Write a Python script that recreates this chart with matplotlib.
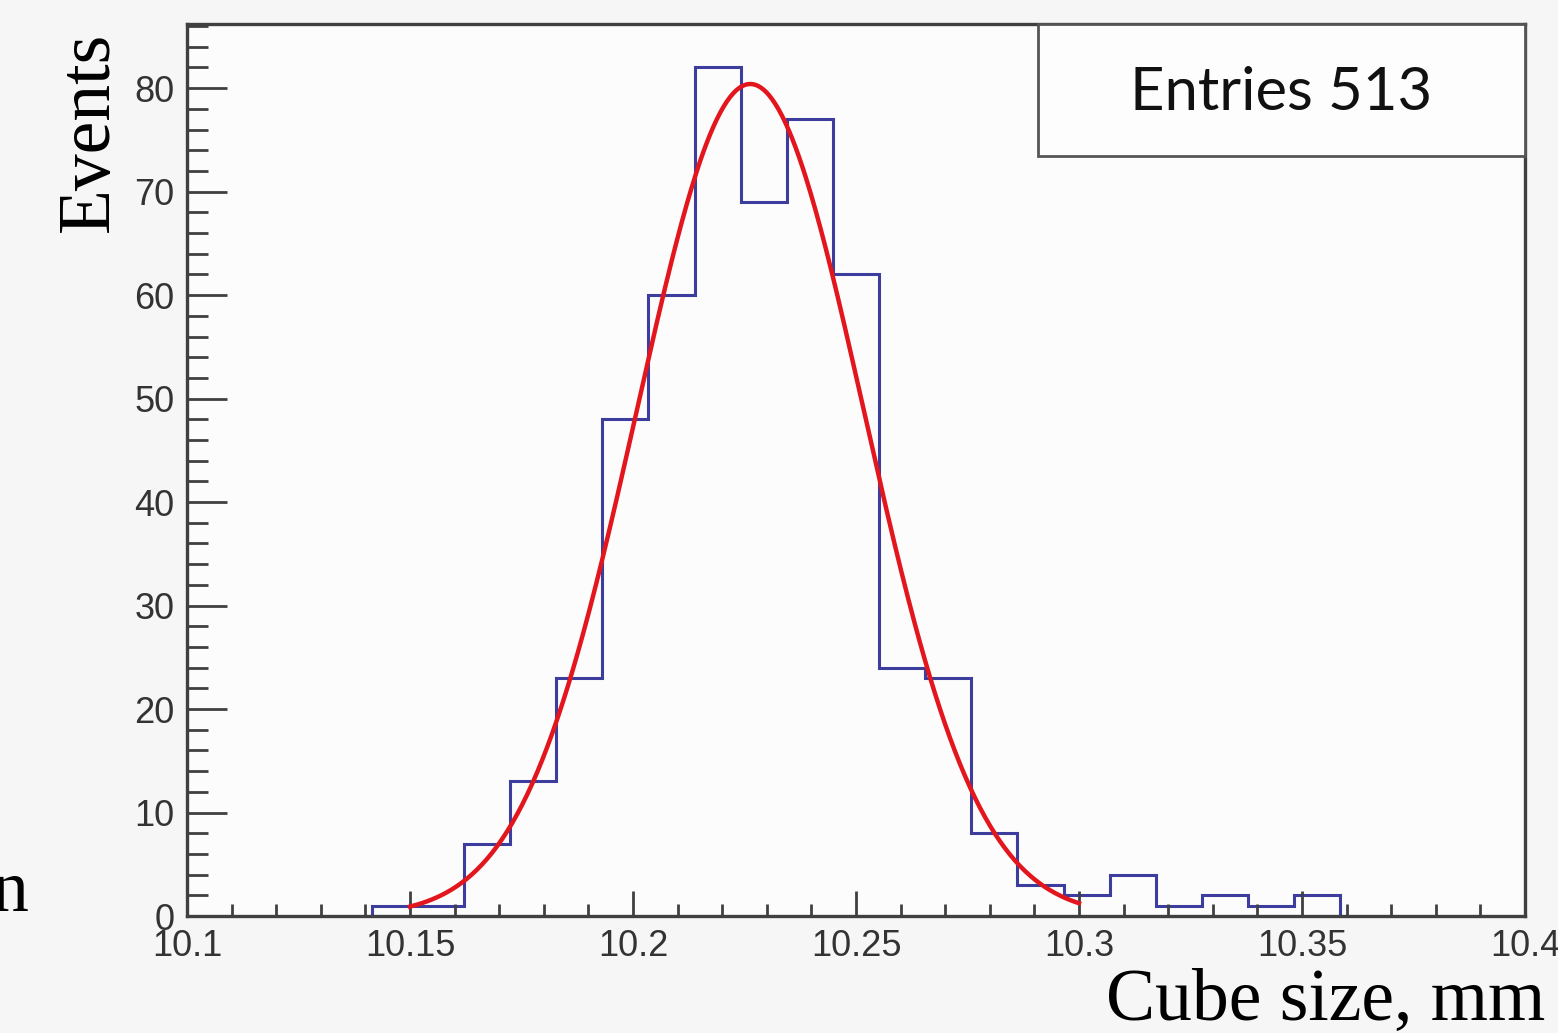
import numpy as np
import matplotlib.pyplot as plt
from matplotlib.patches import Rectangle
from matplotlib.ticker import MultipleLocator

# histogram: 29 bins between 10.1 and 10.4 mm
x_min, x_max, n_bins = 10.1, 10.4, 29
counts = [0, 0, 0, 0, 1, 1, 7, 13, 23, 48, 60, 82, 69, 77, 62,
          24, 23, 8, 3, 2, 4, 1, 2, 1, 2, 0, 0, 0, 0]
entries = 513

# gaussian fit
fit_amp = 80.4
fit_mean = 10.2263
fit_sigma = 0.0255
fit_range = (10.15, 10.30)

x_ticks = [10.1, 10.15, 10.2, 10.25, 10.3, 10.35, 10.4]
x_tick_labels = ['10.1', '10.15', '10.2', '10.25', '10.3', '10.35', '10.4']
y_ticks = [0, 10, 20, 30, 40, 50, 60, 70, 80]

W, H = 1558, 1033


def draw():
    fig = plt.figure(figsize=(W / 100, H / 100), dpi=100, facecolor='#f6f6f6')
    ax = fig.add_axes([187 / W, 1 - 916 / H, (1525 - 187) / W, (916 - 24) / H])
    ax.set_facecolor('#fcfcfc')

    edges = np.linspace(x_min, x_max, n_bins + 1)
    c = np.array(counts)
    nz = np.nonzero(c)[0]
    lo, hi = nz[0], nz[-1] + 1
    ax.stairs(c[lo:hi], edges[lo:hi + 1], color='#3d3d9e', lw=2.2, baseline=0)

    xs = np.linspace(fit_range[0], fit_range[1], 400)
    ax.plot(xs, fit_amp * np.exp(-0.5 * ((xs - fit_mean) / fit_sigma) ** 2),
            color='#e3161e', lw=3.2, zorder=3)

    ax.set_xlim(x_min, x_max)
    ax.set_ylim(0, 86.2)

    for side in ['left', 'bottom', 'top', 'right']:
        ax.spines[side].set_color('#404040')
        ax.spines[side].set_linewidth(2.4)

    ax.set_xticks(x_ticks)
    ax.set_xticklabels(x_tick_labels)
    ax.xaxis.set_minor_locator(MultipleLocator(0.01))
    ax.set_yticks(y_ticks)
    ax.yaxis.set_minor_locator(MultipleLocator(2))
    ax.tick_params(axis='x', which='major', direction='in', length=18, width=2.0,
                   color='#404040', labelsize=26, labelcolor='#333333', pad=9)
    ax.tick_params(axis='x', which='minor', direction='in', length=9, width=2.0, color='#404040')
    ax.tick_params(axis='y', which='major', direction='in', length=29, width=2.0,
                   color='#404040', labelsize=26, labelcolor='#333333', pad=9)
    ax.tick_params(axis='y', which='minor', direction='in', length=15, width=2.0, color='#404040')
    for lab in ax.get_xticklabels() + ax.get_yticklabels():
        lab.set_family('Liberation Sans')

    # stats box
    ax.add_patch(Rectangle((0.636, 0.852), 0.364, 0.148, transform=ax.transAxes,
                           facecolor='#fdfdfd', edgecolor='#555555', lw=2.0, zorder=4,
                           clip_on=False))
    ax.text(0.8175, 0.9036, f'Entries {entries}', transform=ax.transAxes, ha='center',
            va='baseline', fontsize=43, family='Lato', color='#111111', zorder=5)

    fig.text(108 / W, 1 - 131.5 / H, 'Events', rotation=90, rotation_mode='anchor',
             ha='center', va='baseline', fontsize=53, family='Liberation Serif')
    fig.text(1545 / W, 1 - 1020 / H, 'Cube size, mm', ha='right', va='baseline',
             fontsize=53, family='Liberation Serif')
    fig.text(28 / W, 1 - 911 / H, 'n', ha='right', va='baseline',
             fontsize=53, family='Liberation Serif')

    fig.savefig('out.png', dpi=100, facecolor=fig.get_facecolor())


if __name__ == '__main__':
    draw()
